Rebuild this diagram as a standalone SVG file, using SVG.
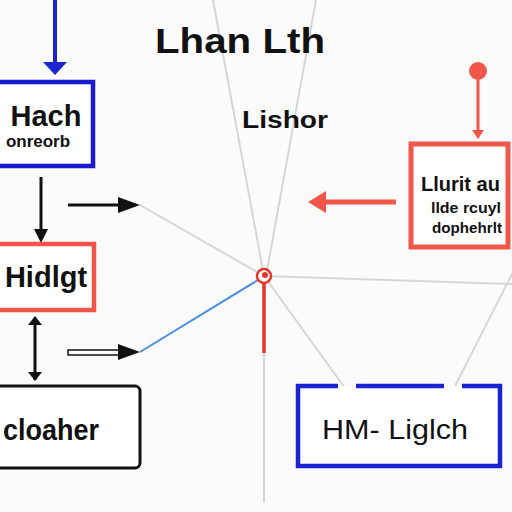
<svg xmlns="http://www.w3.org/2000/svg" width="512" height="512" viewBox="0 0 512 512">
<style>
.t{font-family:"Liberation Sans",Arial,sans-serif;font-weight:bold;fill:#111}
.g{stroke:#d6d6d6;stroke-width:2;fill:none}
</style>
<rect width="512" height="512" fill="#fbfbfb"/>
<g id="connectors">
<path class="g" d="M213,0 L264,276"/>
<path class="g" d="M316,0 L266,276"/>
<path class="g" d="M140,205 L264,276"/>
<path class="g" d="M264,276 L512,284"/>
<path class="g" d="M515,268 L452,392"/>
<path class="g" d="M264,276 L350,395"/>
<path class="g" d="M264,282 L264,502"/>
<path d="M140,352 L258,280" stroke="#4a8fe0" stroke-width="2" fill="none"/>
<path d="M264,282 L264,353" stroke="#e8352a" stroke-width="3.5"/>
<path d="M55,0 L55,63" stroke="#1a24d0" stroke-width="4"/>
<path d="M43,62 L67,62 L55,75 Z" fill="#1a24d0"/>
<path d="M41,177 L41,236" stroke="#111" stroke-width="3"/>
<path d="M34,229 L48,229 L41,243 Z" fill="#111"/>
<path d="M35,318 L35,380" stroke="#111" stroke-width="3"/>
<path d="M28,325 L42,325 L35,316 Z" fill="#111"/>
<path d="M28,372 L42,372 L35,381 Z" fill="#111"/>
<path d="M68,205 L120,205" stroke="#111" stroke-width="3"/>
<path d="M118,197 L140,205 L118,213 Z" fill="#111"/>
<rect x="68" y="350" width="52" height="5" fill="#fff" stroke="#111" stroke-width="1.5"/>
<path d="M118,344 L140,352 L118,360 Z" fill="#111"/>
<circle cx="478" cy="71" r="9" fill="#f0564a"/>
<path d="M478,78 L478,133" stroke="#f0564a" stroke-width="3"/>
<path d="M472,130 L484,130 L478,139 Z" fill="#f0564a"/>
<path d="M396,202 L322,202" stroke="#f0564a" stroke-width="5"/>
<path d="M326,191 L308,202 L326,213 Z" fill="#f0564a"/>
</g>
<g id="hub">
<circle cx="264" cy="276" r="7" fill="#fff" stroke="#e8352a" stroke-width="2.5"/>
<circle cx="265" cy="275" r="3" fill="#e8352a"/>
</g>
<g id="title">
<text class="t" x="155" y="53" font-size="35" textLength="170" lengthAdjust="spacingAndGlyphs">Lhan Lth</text>
</g>
<g id="label-lishor">
<text class="t" x="242" y="128" font-size="23" textLength="86" lengthAdjust="spacingAndGlyphs">Lishor</text>
</g>
<g id="node-hach">
<rect x="-5" y="82" width="98" height="84" fill="#fff" stroke="#1a1ad0" stroke-width="4.5"/>
<text class="t" x="46" y="126" font-size="29" text-anchor="middle">Hach</text>
<text class="t" x="38" y="147" font-size="17" text-anchor="middle">onreorb</text>
</g>
<g id="node-hidlgt">
<rect x="-5" y="244" width="99" height="66" fill="#fff" stroke="#f0564a" stroke-width="4.5"/>
<text class="t" x="46" y="287" font-size="29" text-anchor="middle">Hidlgt</text>
</g>
<g id="node-cloaher">
<rect x="-8" y="386" width="148" height="82" rx="5" fill="#fff" stroke="#111" stroke-width="3"/>
<text class="t" x="3" y="440" font-size="29" textLength="96" lengthAdjust="spacingAndGlyphs">cloaher</text>
</g>
<g id="node-lluril">
<rect x="411" y="144" width="97" height="103" fill="#fff" stroke="#f0564a" stroke-width="5"/>
<text class="t" x="421" y="191" font-size="20">Llurit au</text>
<text class="t" x="431" y="213" font-size="14" textLength="70" lengthAdjust="spacingAndGlyphs">llde rcuyl</text>
<text class="t" x="432" y="233" font-size="14" textLength="70" lengthAdjust="spacingAndGlyphs">dophehrlt</text>
</g>
<g id="node-hm">
<path d="M338,386 L298,386 L298,466 L500,466 L500,386 L462,386 M444,386 L356,386" fill="#fff" stroke="#1a24d0" stroke-width="4.5"/>
<text class="t" x="322" y="439" font-size="28" textLength="146" lengthAdjust="spacingAndGlyphs" style="font-weight:500">HM- Liglch</text>
</g>
</svg>
